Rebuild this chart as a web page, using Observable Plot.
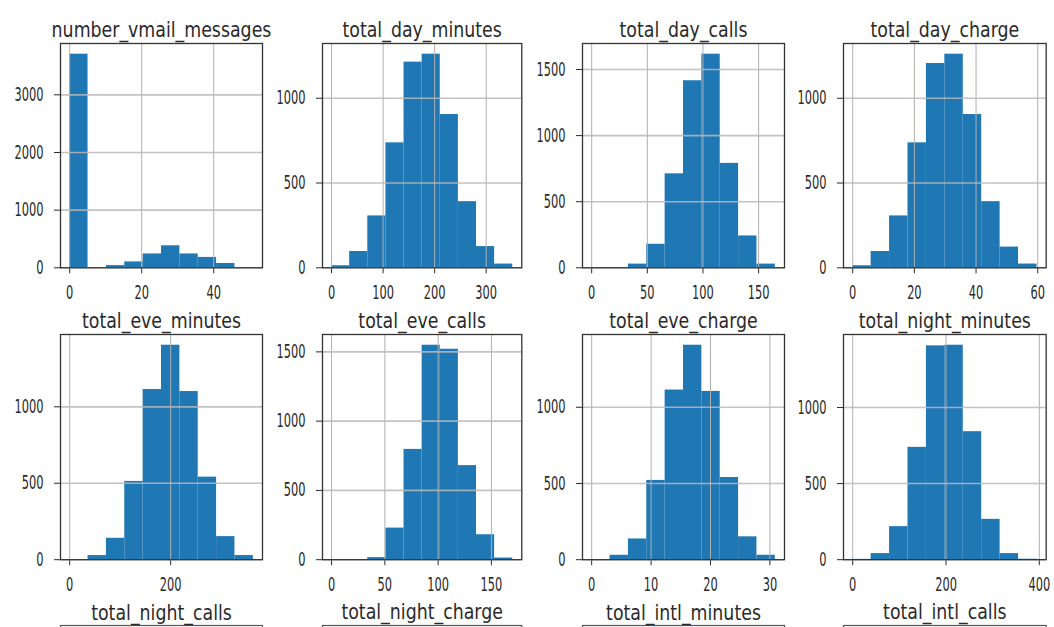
<!DOCTYPE html>
<html><head><meta charset="utf-8">
<script src="https://cdn.jsdelivr.net/npm/d3@7"></script>
<script src="https://cdn.jsdelivr.net/npm/@observablehq/plot@0.6"></script>
<style>
html,body{margin:0;padding:0;background:#fff;overflow:hidden;}
#fig{position:relative;width:1054px;height:627px;overflow:hidden;background:#fff;}
#fig svg{position:absolute;}
</style></head><body><div id="fig"></div>
<script>
// ---- data ----
const titles = ["number_vmail_messages","total_day_minutes","total_day_calls","total_day_charge",
                "total_eve_minutes","total_eve_calls","total_eve_charge","total_night_minutes"];
const bottomTitles = ["total_night_calls","total_night_charge","total_intl_minutes","total_intl_calls"];
const dataMin = [0, 0, 0, 0, 0, 0, 0, 0];
const dataMax = [51, 351.5, 165, 59.76, 363.7, 170, 30.91, 395];
const countsVmail     = [3705, 3, 38, 102, 240, 382, 240, 180, 75, 5];
const countsDayMin    = [12, 96, 306, 737, 1213, 1260, 904, 390, 125, 22];
const countsDayCalls  = [2, 1, 28, 178, 711, 1415, 1616, 790, 241, 28];
const countsDayCharge = [12, 96, 306, 737, 1205, 1260, 904, 390, 122, 22];
const countsEveMin    = [1, 27, 140, 512, 1113, 1403, 1100, 540, 151, 27];
const countsEveCalls  = [1, 0, 15, 228, 796, 1548, 1519, 679, 180, 12];
const countsEveCharge = [1, 29, 136, 520, 1113, 1407, 1104, 539, 150, 29];
const countsNightMin  = [2, 40, 217, 738, 1405, 1409, 841, 265, 40, 3];
const counts = [countsVmail, countsDayMin, countsDayCalls, countsDayCharge,
                countsEveMin, countsEveCalls, countsEveCharge, countsNightMin];
const xTicks = [[0,20,40],[0,100,200,300],[0,50,100,150],[0,20,40,60],
                [0,200],[0,50,100,150],[0,10,20,30],[0,200,400]];
const yTicks = [[0,1000,2000,3000],[0,500,1000],[0,500,1000,1500],[0,500,1000],
                [0,500,1000],[0,500,1000,1500],[0,500,1000],[0,500,1000]];

// ---- layout ----
const colLeft = [60, 321.7, 582, 843.3];
const colRight = [262, 521, 784, 1046];
const rowTop = [42.7, 333.5, 625];
const rowBottom = [267, 558.7];
const ML = 60, MR = 10, MT = 45, MB = 50;
const fig = document.getElementById("fig");
const baseStyle = {background: "none", overflow: "visible", maxWidth: "none",
  fontFamily: "DejaVu Sans", fontSize: "19px", color: "#2a2a2a"};

function squeeze(svg) {
  svg.querySelectorAll("text").forEach(t => {
    const g = t.closest("g[aria-label]");
    const isTitle = g && g.getAttribute("aria-label") === "text";
    const s = isTitle ? 0.79 : 0.6;
    const tr = t.getAttribute("transform");
    if (tr) t.setAttribute("transform", tr + ` scale(${s},1)`);
    else {
      const x = +t.getAttribute("x") || 0, y = +t.getAttribute("y") || 0;
      t.removeAttribute("x"); t.removeAttribute("y");
      t.setAttribute("transform", `translate(${x},${y}) scale(${s},1)`);
    }
  });
}

for (let i = 0; i < 8; i++) {
  const r = Math.floor(i / 4), c = i % 4;
  const n = counts[i].length;
  const w = (dataMax[i] - dataMin[i]) / n;
  const bins = counts[i].map((v, k) => ({x1: dataMin[i] + k * w, x2: dataMin[i] + (k + 1) * w, y: v}));
  const pad = 0.05 * (dataMax[i] - dataMin[i]);
  const ymax = d3.max(counts[i]) * 1.05;
  const fw = colRight[c] - colLeft[c], fh = rowBottom[r] - rowTop[r];
  const svg = Plot.plot({
    width: fw + ML + MR, height: fh + MT + MB,
    marginLeft: ML, marginRight: MR, marginTop: MT, marginBottom: MB,
    style: baseStyle,
    x: {domain: [dataMin[i] - pad, dataMax[i] + pad], ticks: xTicks[i], tickSize: 6, tickPadding: 12,
        tickFormat: d => String(d), label: null},
    y: {domain: [0, ymax], ticks: yTicks[i], tickSize: 6, tickPadding: 11,
        tickFormat: d => String(d), label: null},
    marks: [
      Plot.rect(bins, {x1: "x1", x2: "x2", y1: 0, y2: "y", fill: "#1f77b4"}),
      Plot.ruleX(xTicks[i], {stroke: "#b0b0b0", strokeWidth: 1}),
      Plot.ruleY(yTicks[i], {stroke: "#b8b8b8", strokeWidth: 1.6, strokeOpacity: 0.85}),
      Plot.frame({stroke: "#333", strokeWidth: 1.3}),
      Plot.text([titles[i]], {frameAnchor: "top", lineAnchor: "bottom", dy: -6, fontSize: 22, fill: "#2a2a2a"})
    ]
  });
  squeeze(svg);
  svg.style.left = (colLeft[c] - ML) + "px";
  svg.style.top = (rowTop[r] - MT) + "px";
  fig.appendChild(svg);
}

// third row: only titles and frame tops are visible
for (let c = 0; c < 4; c++) {
  const fw = colRight[c] - colLeft[c];
  const svg = Plot.plot({
    width: fw + ML + MR, height: 200 + MT + MB,
    marginLeft: ML, marginRight: MR, marginTop: MT, marginBottom: MB,
    style: baseStyle,
    x: {domain: [0, 1], axis: null},
    y: {domain: [0, 1], axis: null},
    marks: [
      Plot.frame({stroke: "#555", strokeWidth: 1.2}),
      Plot.text([bottomTitles[c]], {frameAnchor: "top", lineAnchor: "bottom", dy: -6, fontSize: 22, fill: "#2a2a2a"})
    ]
  });
  squeeze(svg);
  svg.style.left = (colLeft[c] - ML) + "px";
  svg.style.top = (rowTop[2] - MT) + "px";
  fig.appendChild(svg);
}
</script></body></html>
